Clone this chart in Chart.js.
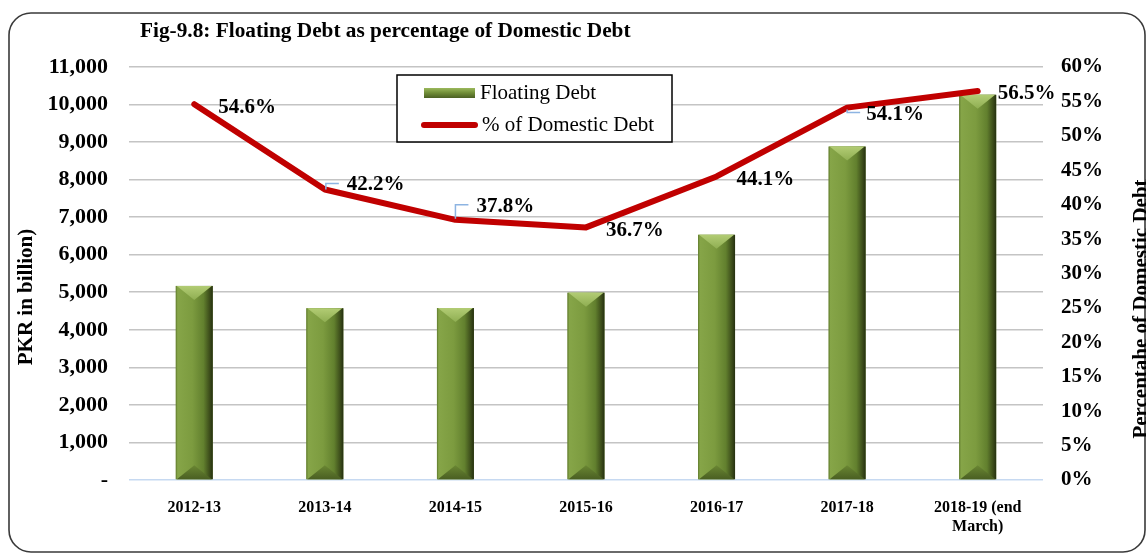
<!DOCTYPE html>
<html><head><meta charset="utf-8">
<script src="https://cdn.jsdelivr.net/npm/chart.js@4.4.1/dist/chart.umd.min.js"></script>
<style>html,body{margin:0;padding:0;background:#fff;overflow:hidden}</style>
</head><body>
<canvas id="c" width="1146" height="554" style="width:1146px;height:554px;display:block"></canvas>
<script>
// ---- data ----
const categories = ['2012-13', '2013-14', '2014-15', '2015-16', '2016-17', '2017-18', ['2018-19 (end', 'March)']];
const floatingDebt = [5170, 4575, 4580, 4990, 6530, 8880, 10260];
const pctDomesticDebt = [54.6, 42.2, 37.8, 36.7, 44.1, 54.1, 56.5];
const seriesNames = ['Floating Debt', '% of Domestic Debt'];
const titleText = 'Fig-9.8: Floating Debt as percentage of Domestic Debt';
const leftAxisTitle = 'PKR in billion)';
const rightAxisTitle = 'Percentahe of Domestic Debt';

// ---- styles ----
const SERIF = '"Liberation Serif", "Times New Roman", serif';
const labelOffsets = [[24, 3], [22, -5], [21, -13], [20, 3], [20, 3], [19, 7], [20, 2]];
const leaders = {1: [[1, 0], [1, -6], [14, -6]], 2: [[0, -1], [0, -15], [13, -15]], 5: [[0, 2], [0, 5], [13, 5]]};

const decoPlugin = {
  id: 'deco',
  beforeDraw(chart) {
    const c = chart.ctx;
    c.save(); c.fillStyle = '#fff'; c.fillRect(0, 0, chart.width, chart.height); c.restore();
  },
  afterDatasetDraw(chart, args) {
    if (args.index !== 0) return;
    const c = chart.ctx;
    const meta = chart.getDatasetMeta(0);
    meta.data.forEach(el => {
      const p = el.getProps(['x', 'y', 'base', 'width'], true);
      const l = p.x - p.width / 2, r = p.x + p.width / 2, t = p.y, b = p.base, w = p.width;
      c.save();
      const g = c.createLinearGradient(l, 0, r, 0);
      g.addColorStop(0, '#5f7a2c');
      g.addColorStop(0.05, '#86a548');
      g.addColorStop(0.45, '#7c9b3f');
      g.addColorStop(0.75, '#62802e');
      g.addColorStop(0.92, '#3b4b1a');
      g.addColorStop(1, '#253010');
      c.fillStyle = g;
      c.fillRect(l, t, w, b - t);
      // top bevel (light inverted triangle)
      const bh = Math.min(14, (b - t) / 3);
      const tg = c.createLinearGradient(0, t, 0, t + bh);
      tg.addColorStop(0, '#b2cc74');
      tg.addColorStop(1, '#8fae52');
      c.fillStyle = tg;
      c.beginPath(); c.moveTo(l + 1, t); c.lineTo(r - 1, t); c.lineTo(p.x, t + bh); c.closePath(); c.fill();
      // bottom bevel (darker triangle)
      const bg = c.createLinearGradient(0, b - bh, 0, b);
      bg.addColorStop(0, '#6a8733');
      bg.addColorStop(1, '#4a5f22');
      c.fillStyle = bg;
      c.beginPath(); c.moveTo(l + 1, b); c.lineTo(r - 1, b); c.lineTo(p.x, b - bh); c.closePath(); c.fill();
      c.restore();
    });
  },
  afterDatasetsDraw(chart) {
    const c = chart.ctx;
    const meta = chart.getDatasetMeta(1);
    c.save();
    // leader lines
    c.strokeStyle = '#8db4e2'; c.lineWidth = 1.5;
    Object.keys(leaders).forEach(k => {
      const el = meta.data[k];
      const pts = leaders[k];
      c.beginPath();
      pts.forEach((q, i) => { const X = el.x + q[0], Y = el.y + q[1]; i ? c.lineTo(X, Y) : c.moveTo(X, Y); });
      c.stroke();
    });
    c.fillStyle = '#000';
    c.font = 'bold 21px ' + SERIF;
    c.textAlign = 'left'; c.textBaseline = 'middle';
    meta.data.forEach((el, i) => {
      const o = labelOffsets[i];
      c.fillText(pctDomesticDebt[i].toFixed(1) + '%', el.x + o[0], el.y + o[1]);
    });
    c.restore();
  },
  afterDraw(chart) {
    const c = chart.ctx;
    c.save();
    // border
    c.strokeStyle = '#3a3a3a'; c.lineWidth = 1.6;
    c.beginPath();
    if (c.roundRect) c.roundRect(9, 13, 1136, 539, 22); else c.rect(9, 13, 1136, 539);
    c.stroke();
    // title
    c.fillStyle = '#000';
    c.font = 'bold 21.3px ' + SERIF;
    c.textAlign = 'left'; c.textBaseline = 'middle';
    c.fillText(titleText, 140, 31);
    // axis titles
    c.font = 'bold 21px ' + SERIF;
    c.textAlign = 'center';
    c.save(); c.translate(27, 297); c.rotate(-Math.PI / 2); c.fillText(leftAxisTitle, 0, 0); c.restore();
    c.save(); c.translate(1142, 309); c.rotate(-Math.PI / 2); c.fillText(rightAxisTitle, 0, 0); c.restore();
    // legend
    c.fillStyle = '#fff';
    c.fillRect(397, 75, 275, 67);
    c.strokeStyle = '#000'; c.lineWidth = 1.5;
    c.strokeRect(397, 75, 275, 67);
    const sg = c.createLinearGradient(0, 88, 0, 98);
    sg.addColorStop(0, '#9bb95c'); sg.addColorStop(0.5, '#6f8c37'); sg.addColorStop(1, '#4b6023');
    c.fillStyle = sg; c.fillRect(424, 88, 51, 10);
    c.strokeStyle = '#C00000'; c.lineWidth = 6; c.lineCap = 'round';
    c.beginPath(); c.moveTo(424, 125); c.lineTo(475, 125); c.stroke();
    c.fillStyle = '#000';
    c.font = '21px ' + SERIF;
    c.textAlign = 'left'; c.textBaseline = 'middle';
    c.fillText(seriesNames[0], 480, 93);
    c.fillText(seriesNames[1], 482, 125);
    c.restore();
  }
};

new Chart(document.getElementById('c'), {
  data: {
    labels: categories,
    datasets: [
      {type: 'bar', label: seriesNames[0], data: floatingDebt, yAxisID: 'y', order: 1,
       backgroundColor: '#77933c', barPercentage: 0.283, categoryPercentage: 1},
      {type: 'line', label: seriesNames[1], data: pctDomesticDebt, yAxisID: 'y1', order: 0,
       borderColor: '#C00000', borderWidth: 6, pointRadius: 0, tension: 0, borderCapStyle: 'round', borderJoinStyle: 'round'}
    ]
  },
  options: {
    responsive: false, animation: false, devicePixelRatio: 1,
    layout: {padding: {left: 8, right: 0, top: 67, bottom: 0}},
    plugins: {legend: {display: false}, tooltip: {enabled: false}, title: {display: false}},
    scales: {
      x: {
        grid: {display: false}, border: {display: false},
        ticks: {color: '#000', font: {family: SERIF, size: 16, weight: 'bold'}, padding: 10, maxRotation: 0, autoSkip: false},
        afterFit(s) { s.height = 74; }
      },
      y: {
        position: 'left', min: 0, max: 11000,
        grid: {color: ctx => ctx.tick && ctx.tick.value === 0 ? '#c6d9f1' : '#c4c4c4', lineWidth: 1.6, drawTicks: false},
        border: {display: false},
        ticks: {stepSize: 1000, padding: 21, color: '#000', font: {family: SERIF, size: 22, weight: 'bold'},
                callback: v => v === 0 ? '-' : v.toLocaleString('en-US')},
        afterFit(s) { s.width = 121; }
      },
      y1: {
        position: 'right', min: 0, max: 60,
        grid: {display: false, drawTicks: false}, border: {display: false},
        ticks: {stepSize: 5, padding: 18, color: '#000', font: {family: SERIF, size: 21, weight: 'bold'},
                callback: v => v + '%'},
        afterFit(s) { s.width = 103; }
      }
    }
  },
  plugins: [decoPlugin]
});
</script>
</body></html>
